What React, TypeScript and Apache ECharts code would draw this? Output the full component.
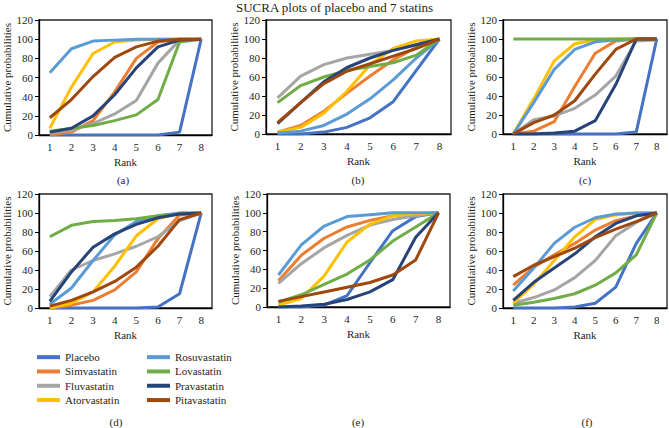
import React, { useEffect, useRef } from "react";
import * as echarts from "echarts";

const ranks = ["1", "2", "3", "4", "5", "6", "7", "8"];
const drugs = ["Placebo", "Simvastatin", "Fluvastatin", "Atorvastatin", "Rosuvastatin", "Lovastatin", "Pravastatin", "Pitavastatin"];
const panelLabels = ["(a)", "(b)", "(c)", "(d)", "(e)", "(f)"];
const yTicks = [0, 20, 40, 60, 80, 100, 120];

// rows follow drug order
const panelA = [
  [0, 0, 0, 0, 0, 0, 3, 100],
  [0, 3, 15, 45, 80, 97, 100, 100],
  [2, 5, 12, 22, 36, 75, 99, 100],
  [7, 50, 85, 97, 99, 100, 100, 100],
  [65, 90, 98, 99, 100, 100, 100, 100],
  [4, 7, 10, 15, 21, 37, 97, 100],
  [3, 7, 20, 42, 70, 92, 99, 100],
  [18, 37, 61, 81, 92, 98, 100, 100],
];
const panelB = [
  [0, 0, 2, 7, 17, 34, 67, 100],
  [2, 9, 24, 43, 61, 78, 91, 100],
  [38, 61, 73, 80, 84, 88, 94, 100],
  [2, 7, 22, 45, 73, 90, 98, 100],
  [1, 3, 9, 21, 37, 57, 80, 100],
  [33, 51, 60, 67, 71, 75, 83, 100],
  [11, 33, 55, 70, 80, 88, 94, 100],
  [12, 33, 53, 66, 74, 82, 90, 100],
];
const panelC = [
  [0, 0, 0, 0, 0, 0, 2, 100],
  [0, 3, 13, 50, 85, 98, 100, 100],
  [0, 15, 19, 27, 41, 61, 98, 99],
  [0, 37, 77, 95, 99, 100, 100, 100],
  [0, 33, 68, 89, 97, 99, 100, 100],
  [100, 100, 100, 100, 100, 100, 100, 100],
  [0, 0, 1, 3, 14, 52, 100, 100],
  [0, 12, 20, 35, 63, 89, 100, 100],
];
const panelD = [
  [0, 0, 0, 0, 0, 1, 15, 100],
  [0, 3, 8, 19, 38, 73, 98, 100],
  [12, 40, 50, 57, 65, 75, 92, 100],
  [0, 5, 17, 44, 76, 94, 100, 100],
  [4, 21, 50, 77, 91, 97, 100, 100],
  [75, 87, 91, 92, 94, 97, 99, 100],
  [7, 38, 64, 78, 88, 95, 99, 100],
  [2, 8, 17, 28, 43, 65, 93, 100],
];
const panelE = [
  [0, 0, 2, 12, 47, 81, 96, 100],
  [28, 55, 73, 85, 92, 97, 99, 100],
  [25, 46, 63, 76, 87, 93, 97, 100],
  [2, 9, 33, 69, 88, 97, 99, 100],
  [34, 66, 86, 96, 98, 100, 100, 100],
  [5, 13, 24, 35, 50, 70, 85, 100],
  [0, 1, 3, 8, 16, 29, 74, 100],
  [6, 11, 16, 21, 26, 34, 50, 100],
];
const panelF = [
  [0, 0, 0, 1, 5, 22, 68, 100],
  [24, 43, 56, 68, 82, 92, 97, 100],
  [5, 11, 19, 32, 50, 76, 90, 100],
  [5, 25, 50, 75, 93, 98, 100, 100],
  [18, 42, 68, 85, 95, 99, 100, 100],
  [3, 6, 10, 15, 24, 37, 56, 100],
  [8, 27, 42, 57, 75, 89, 97, 100],
  [33, 45, 54, 63, 74, 83, 91, 100],
];

const panels = [panelA, panelB, panelC, panelD, panelE, panelF];
const colors = ["#4472C4", "#ED7D31", "#A5A5A5", "#FFC000", "#5B9BD5", "#70AD47", "#264478", "#9E480E"];
const grids = [
  { left: 39, top: 20, width: 173, height: 115 },
  { left: 266, top: 20, width: 185, height: 114 },
  { left: 503, top: 20, width: 164, height: 114 },
  { left: 39, top: 194, width: 173, height: 114 },
  { left: 267, top: 194, width: 183, height: 113 },
  { left: 503, top: 194, width: 164, height: 114 },
];
const labelPos = [
  { x: 123, y: 180 },
  { x: 358, y: 180 },
  { x: 585, y: 180 },
  { x: 116, y: 422 },
  { x: 358, y: 422 },
  { x: 587, y: 422 },
];

const FONT = "Liberation Serif";
const TXT = "#231f20";

export default function App() {
  const ref = useRef<HTMLDivElement>(null);
  useEffect(() => {
    if (!ref.current) return;
    const chart = echarts.init(ref.current, null, { renderer: "svg" });
    const xAxis: any[] = [];
    const yAxis: any[] = [];
    const series: any[] = [];
    grids.forEach((g, i) => {
      xAxis.push({
        type: "category",
        gridIndex: i,
        data: ranks,
        boundaryGap: true,
        name: "Rank",
        nameLocation: "middle",
        nameGap: 21,
        nameTextStyle: { fontFamily: FONT, fontSize: 11, color: TXT },
        axisLine: { lineStyle: { color: "#000", width: 1.3 } },
        axisTick: { alignWithLabel: true, length: 4, lineStyle: { color: "#000" } },
        axisLabel: { fontFamily: FONT, fontSize: 11, color: TXT, margin: 6 },
        splitLine: { show: false },
      });
      yAxis.push({
        type: "value",
        gridIndex: i,
        min: 0,
        max: yTicks[yTicks.length - 1],
        interval: yTicks[1] - yTicks[0],
        name: "Cumulative probabilities",
        nameLocation: "middle",
        nameGap: 27,
        nameTextStyle: { fontFamily: FONT, fontSize: 11, color: TXT },
        axisLine: { show: true, lineStyle: { color: "#000", width: 1.3 } },
        axisTick: { show: true, length: 4, lineStyle: { color: "#000" } },
        axisLabel: { fontFamily: FONT, fontSize: 11, color: TXT, margin: 6 },
        splitLine: { show: false },
      });
      panels[i].forEach((row, k) => {
        series.push({
          type: "line",
          name: drugs[k],
          xAxisIndex: i,
          yAxisIndex: i,
          data: row,
          symbol: "none",
          lineStyle: { color: colors[k], width: 3 },
          itemStyle: { color: colors[k] },
          z: 2,
        });
      });
    });
    const legendCommon = {
      orient: "vertical",
      top: 350,
      padding: 0,
      itemWidth: 23,
      itemHeight: 4,
      itemGap: 0,
      icon: "rect",
      textStyle: { fontFamily: FONT, fontSize: 11, color: TXT, lineHeight: 14.3 },
      selectedMode: false,
    };
    chart.setOption({
      animation: false,
      color: colors,
      title: {
        text: "SUCRA plots of placebo and 7 statins",
        left: "center",
        top: -4,
        textStyle: { fontFamily: FONT, fontSize: 13, fontWeight: "normal", color: TXT },
      },
      legend: [
        { ...legendCommon, left: 37, data: drugs.slice(0, 4) },
        { ...legendCommon, left: 147, data: drugs.slice(4) },
      ],
      grid: grids.map((g) => ({ ...g, show: true, borderColor: "#222", borderWidth: 1.3, backgroundColor: "transparent" })),
      xAxis,
      yAxis,
      series,
      graphic: panelLabels.map((t, i) => ({
        type: "text",
        x: labelPos[i].x,
        y: labelPos[i].y,
        style: { text: t, fontFamily: FONT, fontSize: 11, fill: TXT, textAlign: "center", textVerticalAlign: "middle" },
      })),
    });
    return () => chart.dispose();
  }, []);
  return <div ref={ref} style={{ position: "fixed", left: 0, top: 0, width: 669, height: 428, background: "#fff" }} />;
}
